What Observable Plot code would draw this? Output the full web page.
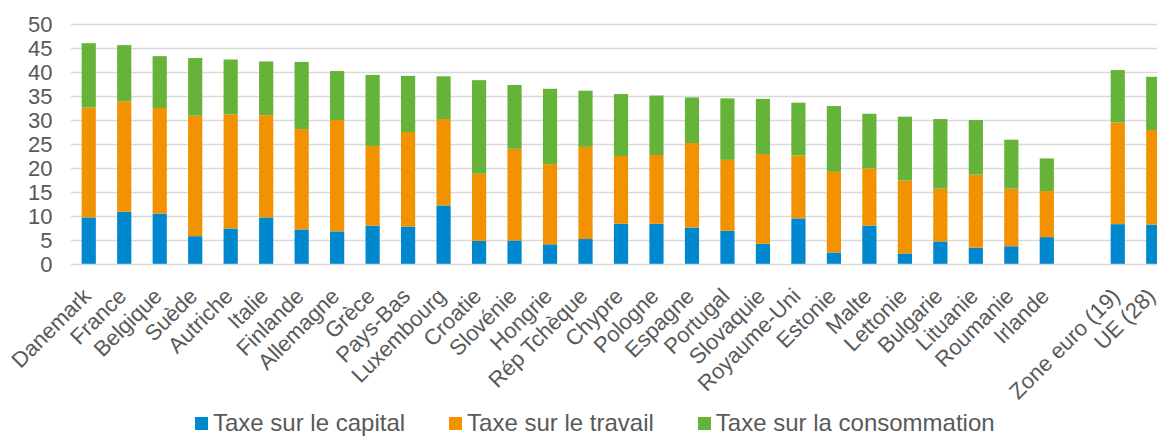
<!DOCTYPE html>
<html>
<head>
<meta charset="utf-8">
<script src="https://cdn.jsdelivr.net/npm/d3@7"></script>
<script src="https://cdn.jsdelivr.net/npm/@observablehq/plot@0.6"></script>
<style>
  html, body { margin: 0; padding: 0; background: #fff; overflow: hidden; width: 1157px; height: 437px; }
  #chart { position: relative; width: 1157px; height: 411px; overflow: hidden; }
  #chart svg { max-width: none !important; }
  #legend { display: flex; margin-left: 195px; font-family: "Liberation Sans", Arial, sans-serif; font-size: 24px; line-height: 24px; color: #595959; white-space: nowrap; }
  #legend .item { display: flex; align-items: baseline; margin-right: 44px; }
  #legend .sw { display: inline-block; width: 13px; height: 13px; margin-right: 5px; position: relative; top: -1px; }
</style>
</head>
<body>
<div id="chart"></div>
<div id="legend"></div>
<script>
const countries = ["Danemark","France","Belgique","Suède","Autriche","Italie","Finlande","Allemagne","Grèce","Pays-Bas","Luxembourg","Croatie","Slovénie","Hongrie","Rép Tchèque","Chypre","Pologne","Espagne","Portugal","Slovaquie","Royaume-Uni","Estonie","Malte","Lettonie","Bulgarie","Lituanie","Roumanie","Irlande","Zone euro (19)","UE (28)"];
const capital = [9.7,10.9,10.5,5.8,7.4,9.7,7.2,6.8,8.0,7.8,12.2,4.8,4.9,4.1,5.2,8.4,8.4,7.6,6.9,4.2,9.5,2.4,8.0,2.2,4.7,3.4,3.7,5.6,8.3,8.2];
const travail = [22.9,23.0,22.0,25.1,23.8,21.3,20.9,23.2,16.6,19.7,18.0,14.0,19.1,16.7,19.2,14.1,14.3,17.6,14.8,18.7,13.1,16.8,11.9,15.2,11.0,15.2,12.0,9.6,21.2,19.7];
const consommation = [13.4,11.7,10.8,12.0,11.4,11.2,14.0,10.2,14.8,11.7,8.9,19.5,13.3,15.7,11.7,12.9,12.4,9.5,12.8,11.5,11.0,13.7,11.4,13.3,14.5,11.4,10.2,6.8,10.9,11.1];
const seriesNames = ["Taxe sur le capital","Taxe sur le travail","Taxe sur la consommation"];
const seriesColors = ["#0088CE","#F39200","#66B33A"];
const yTicks = [0,5,10,15,20,25,30,35,40,45,50];
const gapKey = " ";

const xDomain = [...countries.slice(0, 28), gapKey, ...countries.slice(28)];
const seriesValues = [capital, travail, consommation];
const data = [];
countries.forEach((c, i) => {
  seriesNames.forEach((s, j) => data.push({pays: c, serie: s, valeur: seriesValues[j][i]}));
});

const chart = Plot.plot({
  width: 1171,
  height: 411,
  marginLeft: 71,
  marginRight: 0,
  marginTop: 24,
  marginBottom: 147,
  style: {fontFamily: "'Liberation Sans', Arial, sans-serif", fontSize: "22px", color: "#595959", background: "#fff", maxWidth: "none"},
  x: {domain: xDomain, paddingInner: 0.6, paddingOuter: 0.3, align: 0.5, round: false},
  y: {domain: [0, 50]},
  color: {domain: seriesNames, range: seriesColors},
  marks: [
    Plot.ruleY(yTicks.slice(1), {stroke: "#d9d9d9", strokeWidth: 1.3}),
    Plot.barY(data, {x: "pays", y: "valeur", fill: "serie", order: seriesNames}),
    Plot.ruleY([0], {stroke: "#d9d9d9", strokeWidth: 1.6}),
    Plot.axisY({ticks: yTicks, tickSize: 0, tickPadding: 19, fontSize: 22, label: null}),
    Plot.axisX({tickSize: 0, tickRotate: -45, tickPadding: 6, fontSize: 22, label: null, dx: -2, dy: 22})
  ]
});
document.getElementById("chart").appendChild(chart);

const legend = document.getElementById("legend");
seriesNames.forEach((s, i) => {
  const item = document.createElement("div");
  item.className = "item";
  const sw = document.createElement("span");
  sw.className = "sw";
  sw.style.background = seriesColors[i];
  item.appendChild(sw);
  item.appendChild(document.createTextNode(s));
  legend.appendChild(item);
});
</script>
</body>
</html>
